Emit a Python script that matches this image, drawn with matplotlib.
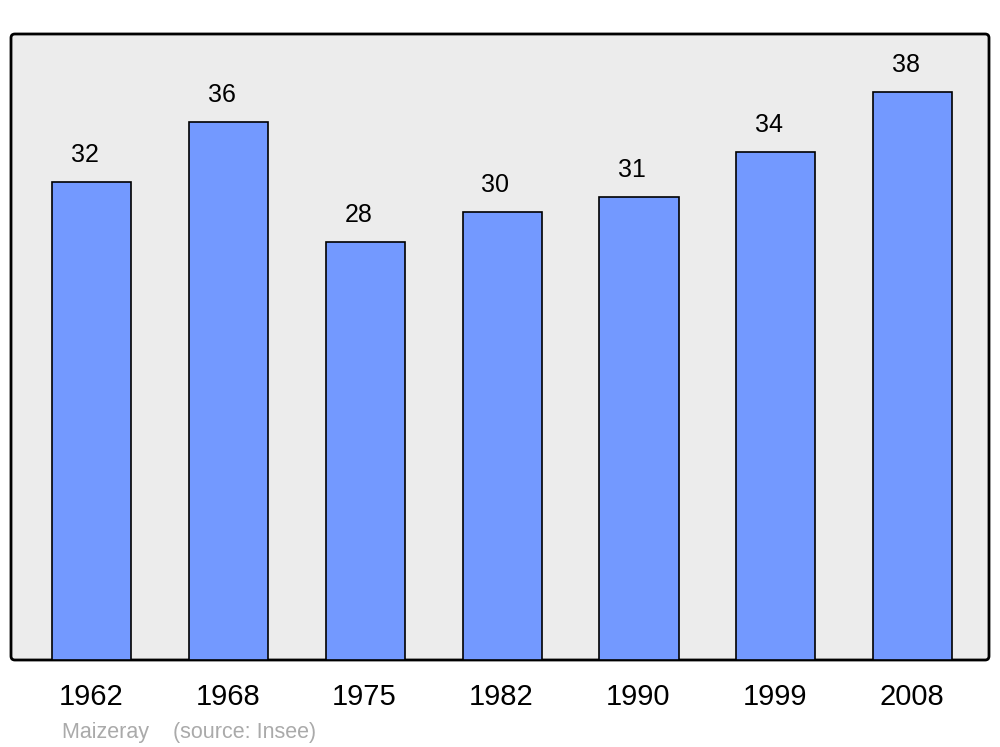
import matplotlib
matplotlib.use("Agg")
import matplotlib.pyplot as plt
from matplotlib.patches import FancyBboxPatch

plt.rcParams["font.family"] = ["Liberation Sans", "DejaVu Sans"]

years = ["1962", "1968", "1975", "1982", "1990", "1999", "2008"]
population = [32, 36, 28, 30, 31, 34, 38]
commune = "Maizeray"
source = "(source: Insee)"

fig = plt.figure(figsize=(10, 7.47), dpi=100)
ax = fig.add_axes([0.011, 87 / 747, 0.978, 626 / 747])
ax.patch.set_visible(False)
for s in ax.spines.values():
    s.set_visible(False)

# rounded grey frame
frame = FancyBboxPatch((0, 0), 1, 1, boxstyle="round,pad=0,rounding_size=0.004",
                       mutation_aspect=978 / 626, transform=ax.transAxes,
                       facecolor="#ececec", edgecolor="black", linewidth=2,
                       zorder=0, clip_on=False)
ax.add_patch(frame)

x = list(range(len(years)))
ax.bar(x, population, width=0.578, color="#7399ff", edgecolor="black",
       linewidth=1.2, zorder=2)

for i, v in zip(x, population):
    ax.annotate(str(v), xy=(i, v), xytext=(-7, 20), textcoords="offset pixels",
                ha="center", va="baseline", fontsize=18)
    ax.annotate(years[i], xy=(i, 0), xycoords=("data", "axes fraction"),
                xytext=(-1, -45), textcoords="offset pixels",
                ha="center", va="baseline", fontsize=21)

ax.set_xlim(-0.592, 6.559)
ax.set_ylim(0, 41.9)
ax.set_xticks([])
ax.set_yticks([])

fig.text(0.062, 9 / 747, f"{commune}    {source}", color="#aaaaaa",
         fontsize=15.5, ha="left", va="baseline")

fig.savefig("out.png", dpi=100)
